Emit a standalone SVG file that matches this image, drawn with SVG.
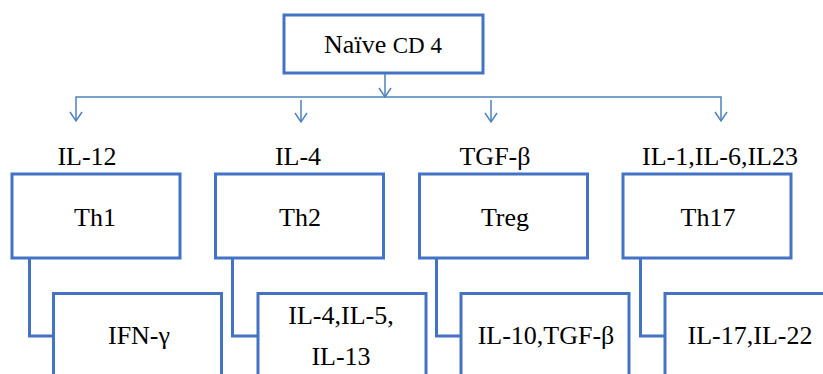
<svg xmlns="http://www.w3.org/2000/svg" width="823" height="374" viewBox="0 0 823 374">
<style>
  .box { fill: #ffffff; stroke: #4472C4; stroke-width: 3; }
  .thin { fill: none; stroke: #4F81BD; stroke-width: 1.5; }
  .thick { fill: none; stroke: #4472C4; stroke-width: 3; }
</style>
<rect width="823" height="374" fill="#ffffff"/>
<g id="connectors">
  <line class="thin" x1="385" y1="73" x2="385" y2="97"/>
  <path d="M379,88 L385,97 L391,88" class="thin"/>
  <polyline class="thin" points="76,121 76,97 721,97 721,121"/>
  <path d="M70,112 L76,121 L82,112" class="thin"/>
  <path d="M715,112 L721,121 L727,112" class="thin"/>
  <line class="thin" x1="301" y1="100" x2="301" y2="122"/>
  <path d="M295,113 L301,122 L307,113" class="thin"/>
  <line class="thin" x1="491" y1="100" x2="491" y2="122"/>
  <path d="M485,113 L491,122 L497,113" class="thin"/>
  <polyline class="thick" points="29.5,258 29.5,336 53,336"/>
  <polyline class="thick" points="232.5,258 232.5,336 258,336"/>
  <polyline class="thick" points="436.5,258 436.5,336 461,336"/>
  <polyline class="thick" points="640.5,258 640.5,336 665,336"/>
</g>
<g font-family="Liberation Serif, Times New Roman, serif" font-size="26" fill="#000000" text-anchor="middle">
<g id="naive">
  <rect class="box" x="284" y="15" width="199" height="58"/>
  <text x="383" y="53">Naïve <tspan font-size="23">CD 4</tspan></text>
</g>
<g id="label-il12"><text x="87" y="165">IL-12</text></g>
<g id="label-il4"><text x="298" y="165">IL-4</text></g>
<g id="label-tgfb"><text x="495" y="165">TGF-β</text></g>
<g id="label-il1623"><text x="720" y="165">IL-1,IL-6,IL23</text></g>
<g id="th1">
  <rect class="box" x="12" y="174" width="168" height="84"/>
  <text x="95" y="226">Th1</text>
</g>
<g id="th2">
  <rect class="box" x="215.5" y="174" width="168" height="84"/>
  <text x="300" y="226">Th2</text>
</g>
<g id="treg">
  <rect class="box" x="419.5" y="174" width="168" height="84"/>
  <text x="505" y="226">Treg</text>
</g>
<g id="th17">
  <rect class="box" x="623" y="174" width="168" height="84"/>
  <text x="708" y="226">Th17</text>
</g>
<g id="ifng">
  <rect class="box" x="53.5" y="293.5" width="168" height="90"/>
  <text x="139" y="344">IFN-γ</text>
</g>
<g id="il4513">
  <rect class="box" x="258" y="293.5" width="168" height="90"/>
  <text x="341" y="324">IL-4,IL-5,</text>
  <text x="341" y="365">IL-13</text>
</g>
<g id="il10tgfb">
  <rect class="box" x="461" y="293.5" width="168" height="90"/>
  <text x="546" y="344">IL-10,TGF-β</text>
</g>
<g id="il1722">
  <rect class="box" x="665" y="293.5" width="168" height="90"/>
  <text x="750" y="344">IL-17,IL-22</text>
</g>
</g>
</svg>
